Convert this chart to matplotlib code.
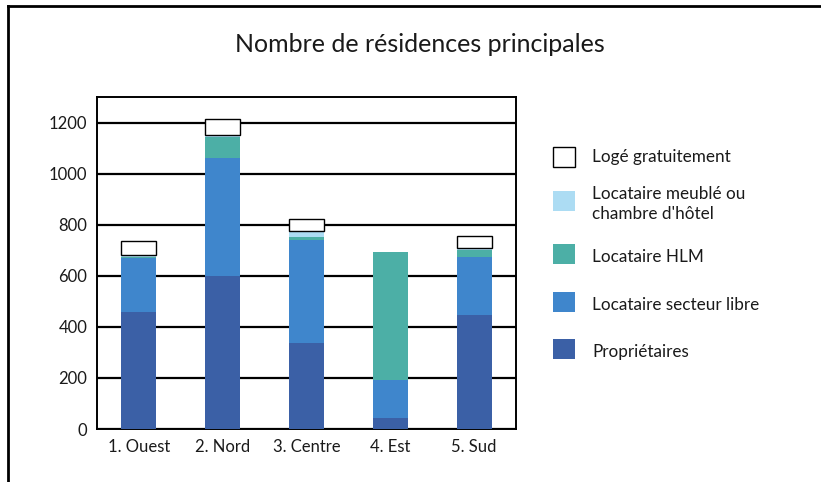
import numpy as np
import matplotlib.pyplot as plt
from matplotlib.lines import Line2D
from matplotlib.patches import Rectangle

plt.rcParams['font.family'] = ['Lato', 'DejaVu Sans']

# données
secteurs = ["1. Ouest", "2. Nord", "3. Centre", "4. Est", "5. Sud"]
proprietaires = [460, 600, 335, 42, 445]
locataire_libre = [210, 460, 405, 150, 230]
locataire_hlm = [5, 85, 10, 503, 25]
locataire_meuble = [5, 5, 25, 0, 10]
loge_gratuit = [55, 65, 48, 0, 45]

series = [
    ("Propriétaires", proprietaires, "#3b60a6", "none"),
    ("Locataire secteur libre", locataire_libre, "#3f86cc", "none"),
    ("Locataire HLM", locataire_hlm, "#4cafa6", "none"),
    ("Locataire meublé ou\nchambre d'hôtel", locataire_meuble, "#acdcf3", "none"),
    ("Logé gratuitement", loge_gratuit, "white", "black"),
]

W, H = 821, 482
fig = plt.figure(figsize=(W / 100, H / 100), dpi=100)
ax = fig.add_axes([97 / W, 1 - 429 / H, (516 - 97) / W, (429 - 97) / H])

x = np.arange(len(secteurs))
bottom = np.zeros(len(secteurs))
for label, vals, color, edge in series:
    vals = np.array(vals, dtype=float)
    keep = vals > 0  # pas de barre vide
    ax.bar(x[keep], vals[keep], 0.42, bottom=bottom[keep], color=color,
           edgecolor=edge, linewidth=1.0 if edge != "none" else 0, zorder=3)
    bottom += vals

ax.set_xlim(-0.5, 4.5)
ax.set_ylim(0, 1300)
ax.set_yticks(np.arange(0, 1201, 200))
ax.set_xticks(x)
ax.set_xticklabels(secteurs)
ax.tick_params(axis='both', length=0, labelsize=12, colors='#1a1a1a')
ax.tick_params(axis='y', pad=7)
ax.tick_params(axis='x', pad=7)
ax.yaxis.grid(True, color='black', linewidth=1.6)
ax.set_axisbelow(True)
for s in ax.spines.values():
    s.set_linewidth(1.4)
    s.set_color('black')

# légende dessinée à la main (haut -> bas)
rows_y = [157, 201, 254, 302, 349]
text_y = [157, 204, 257, 305, 352]
for (label, vals, color, edge), yc, yt in zip(series[::-1], rows_y, text_y):
    fig.add_artist(Rectangle((553 / W, 1 - (yc + 10) / H), 22 / W, 20 / H,
                             transform=fig.transFigure, facecolor=color,
                             edgecolor='black' if edge != "none" else 'none',
                             linewidth=1.0))
    fig.text(592 / W, 1 - yt / H, label, fontsize=12.3, va='center',
             ha='left', color='#1a1a1a', linespacing=1.25)

fig.text(0.512, 1 - 45 / H, "Nombre de résidences principales",
         fontsize=18, ha='center', va='center', color='#1a1a1a')

# cadre extérieur
fig.add_artist(Line2D([8 / W, 1.0], [1 - 6 / H, 1 - 6 / H], color='black', linewidth=2))
fig.add_artist(Line2D([8 / W, 8 / W], [0.0, 1 - 6 / H], color='black', linewidth=2))

plt.savefig("out.png", dpi=100)
